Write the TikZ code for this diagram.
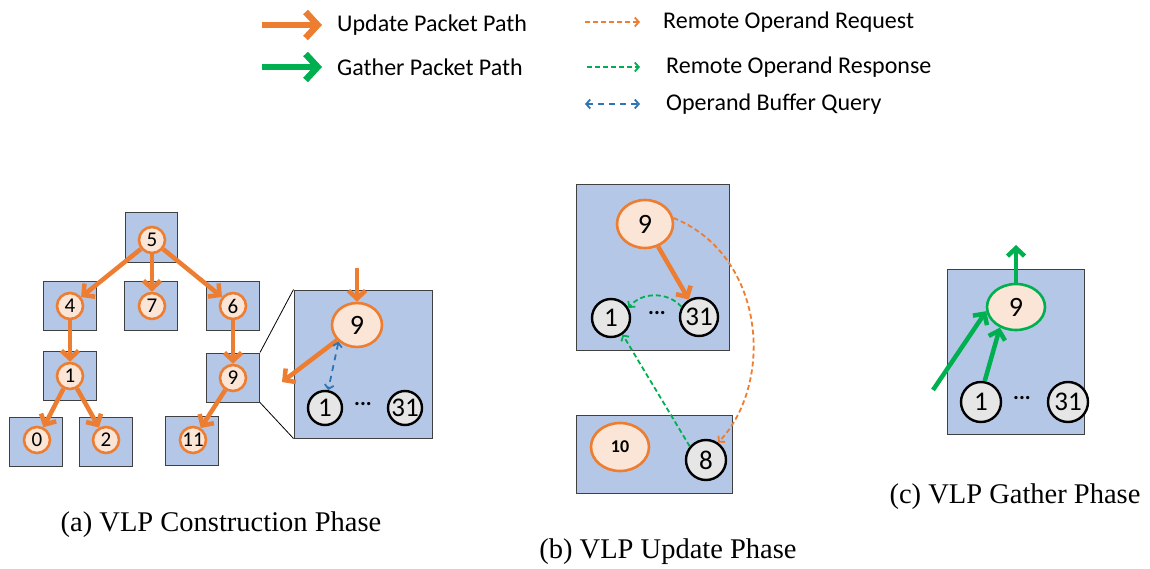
\documentclass[tikz,border=0pt]{standalone}
\usepackage{fontspec}
\setmainfont{Liberation Serif}
\newfontfamily\carl{Carlito}
\usetikzlibrary{arrows.meta,shapes.geometric}
\definecolor{updc}{HTML}{ED7D31}
\definecolor{gatc}{HTML}{00B050}
\definecolor{qryc}{HTML}{2E75B6}
\definecolor{boxblue}{HTML}{B4C7E7}
\definecolor{peach}{HTML}{FBE5D6}
\definecolor{opgray}{HTML}{E7E6E6}
\tikzset{
  pe/.style={draw=black!75, fill=boxblue, line width=1pt, inner sep=0, rectangle},
  vtx/.style={circle, draw=updc, fill=peach, line width=2.6pt, minimum size=26pt,
    inner sep=0, font=\carl\fontsize{21}{21}\selectfont},
  bigv/.style={ellipse, draw=updc, fill=peach, line width=2.6pt, inner sep=0,
    font=\carl\fontsize{28}{28}\selectfont},
  opd/.style={circle, draw=black, fill=opgray, line width=2.4pt, inner sep=0,
    font=\carl\fontsize{27}{27}\selectfont},
  dots/.style={font=\carl\bfseries\fontsize{22}{22}\selectfont, inner sep=0},
  updpath/.style={draw=updc, line width=4.5pt, -{Straight Barb[length=8pt,width=17pt]}},
  gatpath/.style={draw=gatc, line width=4.5pt, -{Straight Barb[length=8pt,width=17pt]}},
  legupd/.style={draw=updc, line width=6.5pt, -{Straight Barb[length=12pt,width=26pt]}},
  leggat/.style={draw=gatc, line width=6.5pt, -{Straight Barb[length=12pt,width=26pt]}},
  req/.style={draw=updc, line width=1.8pt, dash pattern=on 5pt off 3pt,
    -{Straight Barb[length=4pt,width=9pt]}},
  resp/.style={draw=gatc, line width=1.8pt, dash pattern=on 5pt off 3pt,
    -{Straight Barb[length=4pt,width=9pt]}},
  query/.style={draw=qryc, line width=1.8pt, dash pattern=on 6pt off 5pt,
    {Straight Barb[length=4pt,width=9pt]}-{Straight Barb[length=4pt,width=9pt]}},
  legtxt/.style={anchor=west, inner sep=0, font=\carl\fontsize{24}{26}\selectfont},
  caption/.style={inner sep=0, font=\fontsize{28.5}{30}\selectfont},
}
\begin{document}
\begin{tikzpicture}[x=1pt,y=-1pt]
\useasboundingbox (0,0) rectangle (1150,569);

% ---------------- legend ----------------
\coordinate (lu0) at (262,25);  \coordinate (lu1) at (322,25);
\coordinate (lg0) at (262,67);  \coordinate (lg1) at (322,67);
\coordinate (lr0) at (585,22);  \coordinate (lr1) at (640,22);
\coordinate (ls0) at (587,67);  \coordinate (ls1) at (640,67);
\coordinate (lq0) at (585,104); \coordinate (lq1) at (640,104);
\draw[legupd] (lu0) -- (lu1);
\draw[leggat] (lg0) -- (lg1);
\draw[req] (lr0) -- (lr1);
\draw[resp] (ls0) -- (ls1);
\draw[query] (lq0) -- (lq1);
\node[legtxt] (tu) at (337,25) {Update Packet Path};
\node[legtxt] (tg) at (337,67) {Gather Packet Path};
\node[legtxt] (tr) at (663,22) {Remote Operand Request};
\node[legtxt] (ts) at (666,67) {Remote Operand Response};
\node[legtxt] (tq) at (666,104) {Operand Buffer Query};

% ---------------- (a) construction phase ----------------
\node[pe, minimum width=52pt, minimum height=49pt] (p5)  at (151,237.5) {};
\node[pe, minimum width=53pt, minimum height=49pt] (p4)  at (69.5,305.5) {};
\node[pe, minimum width=53pt, minimum height=49pt] (p7)  at (151,305.5) {};
\node[pe, minimum width=53pt, minimum height=49pt] (p6)  at (233,305.5) {};
\node[pe, minimum width=53pt, minimum height=49pt] (p1)  at (69.5,375.5) {};
\node[pe, minimum width=53pt, minimum height=49pt] (p9)  at (233,377.5) {};
\node[pe, minimum width=53pt, minimum height=49pt] (p0)  at (35.5,442) {};
\node[pe, minimum width=53pt, minimum height=49pt] (p2)  at (106,442) {};
\node[pe, minimum width=53pt, minimum height=49pt] (p11) at (192,441) {};

\node[vtx] (v5)  at (152,240) {5};
\node[vtx] (v4)  at (70,306)  {4};
\node[vtx] (v7)  at (152,306) {7};
\node[vtx] (v6)  at (233,306) {6};
\node[vtx] (v1)  at (70,376)  {1};
\node[vtx] (v9)  at (233,378) {9};
\node[vtx] (v0)  at (37,440)  {0};
\node[vtx] (v2)  at (106,440) {2};
\node[vtx] (v11) at (193,440) {11};

\draw[updpath] (v5) -- (v4);
\draw[updpath] (v5) -- (v7);
\draw[updpath] (v5) -- (v6);
\draw[updpath] (v4) -- (v1);
\draw[updpath] (v6) -- (v9);
\draw[updpath] (v1) -- (v0);
\draw[updpath] (v1) -- (v2);
\draw[updpath] (v9) -- (v11);

% magnified processing element
\node[pe, minimum width=138pt, minimum height=148pt] (bigA) at (363,364) {};
\draw[black, line width=0.8pt] (p9.north east) -- (bigA.north west);
\draw[black, line width=0.8pt] (p9.south east) -- (bigA.south west);
\node[bigv, minimum width=50pt, minimum height=44pt] (A9) at (357,325) {9};
\node[opd, minimum size=34pt] (A1)  at (325,408) {1};
\node[opd, minimum size=34pt] (A31) at (405,408) {31};
\node[dots] (Ad) at (363,404) {...};
\coordinate (Ain)  at (357,268);
\coordinate (Aout) at (282,382);
\draw[updpath] (Ain) -- (A9);
\draw[updpath] (A9) -- (Aout);
\draw[query] (A9.222) -- (A1.80);

\node[caption] (capa) at (221,525) {(a) VLP Construction Phase};

% ---------------- (b) update phase ----------------
\node[pe, minimum width=153pt, minimum height=165pt] (topB) at (652.5,267.5) {};
\node[pe, minimum width=156pt, minimum height=78pt]  (botB) at (654,454) {};
\node[bigv, minimum width=56pt, minimum height=48pt] (B9) at (645,224) {9};
\node[opd, minimum size=38pt] (B1)  at (611,318) {1};
\node[opd, minimum size=38pt] (B31) at (699,317) {31};
\node[dots] (Bd) at (657,313) {...};
\node[bigv, minimum width=58pt, minimum height=48pt,
      font=\carl\bfseries\fontsize{18}{18}\selectfont] (B10) at (620,447) {10};
\node[opd, minimum size=40pt] (B8) at (706,460) {8};
\draw[updpath] (B9) -- (B31);
\draw[resp] (B31.150) to[bend right=50] (B1.30);
\draw[req] (B9.12) .. controls (765,255) and (775,382) .. (B8.55);
\draw[resp] (B8.140) -- (B1.-55);

\node[caption] (capb) at (668,552) {(b) VLP Update Phase};

% ---------------- (c) gather phase ----------------
\node[pe, minimum width=137pt, minimum height=165pt] (boxC) at (1015.5,351.5) {};
\node[bigv, draw=gatc, minimum width=58pt, minimum height=46pt] (C9) at (1016,307) {9};
\node[opd, minimum size=40pt] (C1)  at (981,402)  {1};
\node[opd, minimum size=40pt] (C31) at (1068,402) {31};
\node[dots] (Cd) at (1022,398) {...};
\coordinate (Cup) at (1016,245);
\coordinate (Cext) at (933,390);
\draw[gatpath] (C9) -- (Cup);
\draw[gatpath] (C1.80) -- (C9.232);
\draw[gatpath] (Cext) -- (C9.188);

\node[caption] (capc) at (1015,497) {(c) VLP Gather Phase};
\end{tikzpicture}
\end{document}
